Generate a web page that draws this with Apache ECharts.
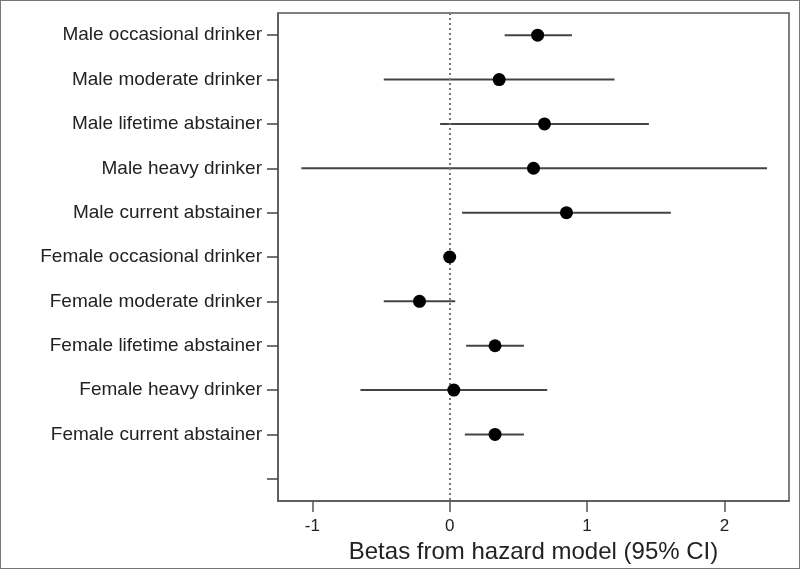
<!DOCTYPE html>
<html>
<head>
<meta charset="utf-8">
<script src="https://cdn.jsdelivr.net/npm/echarts@6/dist/echarts.min.js"></script>
<style>
  html, body { margin: 0; padding: 0; background: #fff; }
  #main { width: 800px; height: 569px; box-sizing: border-box; border: 1px solid #777; }
</style>
</head>
<body>
<div id="main"></div>
<script>
// groups, top to bottom (last one is the empty bottom tick)
var groups = [
  'Male occasional drinker',
  'Male moderate drinker',
  'Male lifetime abstainer',
  'Male heavy drinker',
  'Male current abstainer',
  'Female occasional drinker',
  'Female moderate drinker',
  'Female lifetime abstainer',
  'Female heavy drinker',
  'Female current abstainer',
  ''
];
// betas and 95% CI (reference group has no CI)
var betas = [0.64, 0.36, 0.69, 0.61, 0.85, 0, -0.22, 0.33, 0.03, 0.33];
var lower = [0.40, -0.48, -0.07, -1.08, 0.09, null, -0.48, 0.12, -0.65, 0.11];
var upper = [0.89, 1.20, 1.45, 2.31, 1.61, null, 0.04, 0.54, 0.71, 0.54];
var xTicks = [-1, 0, 1, 2];

var chart = echarts.init(document.getElementById('main'));

var pointData = betas.map(function (b, i) { return [b, groups[i]]; });
var ciData = [];
for (var i = 0; i < betas.length; i++) {
  if (lower[i] != null) ciData.push([lower[i], upper[i], groups[i]]);
}

var option = {
  animation: false,
  textStyle: { fontFamily: 'Liberation Sans, Arial, sans-serif' },
  grid: {
    left: 277, right: 10, top: 12, bottom: 67,
    outerBoundsMode: 'none',
    show: true,
    borderColor: '#555',
    borderWidth: 1.5,
    backgroundColor: '#fff'
  },
  xAxis: {
    type: 'value',
    min: -1.25,
    max: 2.47,
    name: 'Betas from hazard model (95% CI)',
    nameLocation: 'middle',
    nameGap: 37,
    nameTextStyle: { fontSize: 24, color: '#222' },
    axisLine: { show: true, onZero: false, lineStyle: { color: '#555', width: 1.5 } },
    axisTick: { show: true, length: 11, customValues: xTicks, lineStyle: { color: '#555', width: 1.5 } },
    axisLabel: { customValues: xTicks, fontSize: 17, color: '#222', margin: 17 },
    splitLine: { show: false }
  },
  yAxis: {
    type: 'category',
    data: groups,
    inverse: true,
    axisLine: { show: true, onZero: false, lineStyle: { color: '#555', width: 1.5 } },
    axisTick: { show: true, alignWithLabel: true, length: 11, lineStyle: { color: '#444', width: 1.5 } },
    axisLabel: { fontSize: 19, color: '#222', margin: 16 },
    splitLine: { show: false }
  },
  series: [
    {
      // reference line at 0 (kept under everything else)
      type: 'scatter',
      data: pointData,
      symbol: 'none',
      silent: true,
      z: 1,
      markLine: {
        silent: true,
        symbol: 'none',
        label: { show: false },
        lineStyle: { color: '#777', type: [2, 3], width: 2 },
        data: [{ xAxis: 0 }]
      }
    },
    {
      // 95% CI whiskers
      type: 'custom',
      data: ciData,
      encode: { x: [0, 1], y: 2 },
      renderItem: function (params, api) {
        var a = api.coord([api.value(0), api.value(2)]);
        var b = api.coord([api.value(1), api.value(2)]);
        return {
          type: 'line',
          shape: { x1: a[0], y1: a[1], x2: b[0], y2: b[1] },
          style: { stroke: '#444', lineWidth: 2 }
        };
      },
      z: 2
    },
    {
      type: 'scatter',
      data: pointData,
      symbol: 'circle',
      symbolSize: 13,
      itemStyle: { color: '#000', opacity: 1 },
      z: 5
    }
  ]
};

chart.setOption(option);
</script>
</body>
</html>
